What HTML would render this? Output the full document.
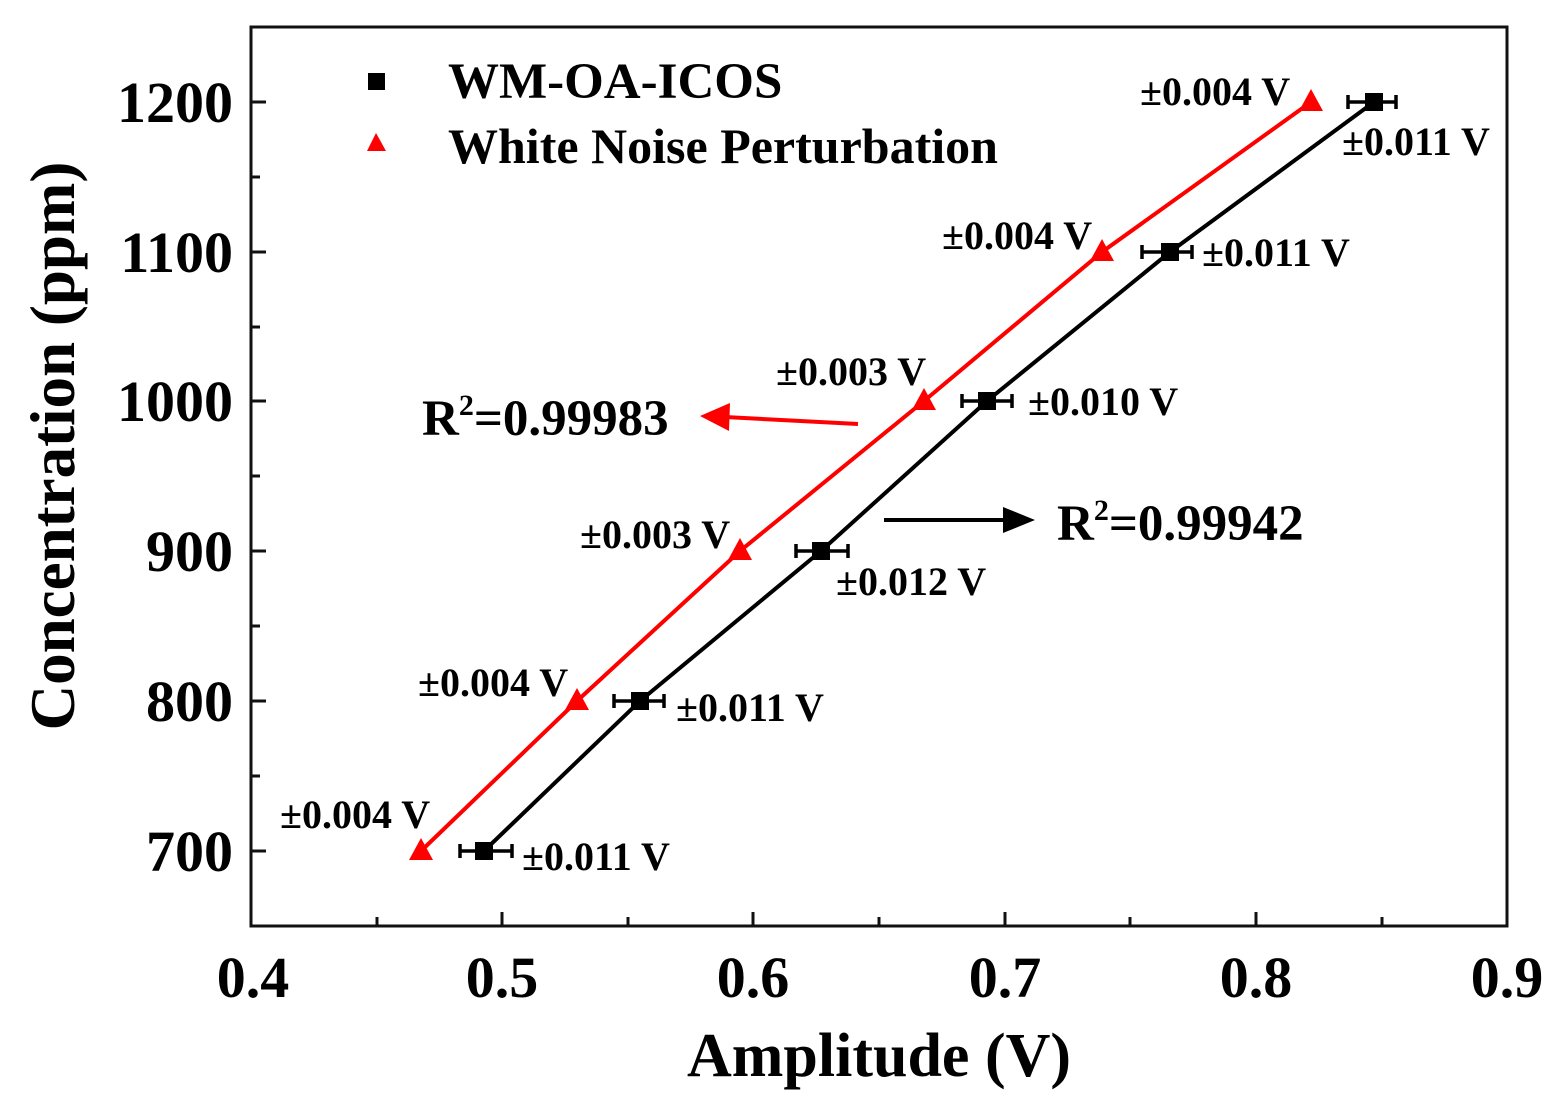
<!DOCTYPE html>
<html><head><style>body{margin:0;background:#fff}svg{display:block}</style></head><body>
<svg width="1556" height="1102" xmlns="http://www.w3.org/2000/svg" font-family="Liberation Serif, serif" font-weight="bold">
<rect x="251" y="27" width="1256" height="899" fill="none" stroke="#111" stroke-width="3"/>
<g stroke="#111" stroke-width="3">
<line x1="502" y1="926" x2="502" y2="912"/><line x1="753" y1="926" x2="753" y2="912"/><line x1="1005" y1="926" x2="1005" y2="912"/><line x1="1256" y1="926" x2="1256" y2="912"/>
<line x1="377" y1="926" x2="377" y2="917"/><line x1="628" y1="926" x2="628" y2="917"/><line x1="879" y1="926" x2="879" y2="917"/><line x1="1130" y1="926" x2="1130" y2="917"/><line x1="1382" y1="926" x2="1382" y2="917"/>
<line x1="251" y1="851" x2="266" y2="851"/><line x1="251" y1="701" x2="266" y2="701"/><line x1="251" y1="551" x2="266" y2="551"/><line x1="251" y1="401" x2="266" y2="401"/><line x1="251" y1="252" x2="266" y2="252"/><line x1="251" y1="102" x2="266" y2="102"/>
<line x1="251" y1="776" x2="260" y2="776"/><line x1="251" y1="626" x2="260" y2="626"/><line x1="251" y1="476" x2="260" y2="476"/><line x1="251" y1="327" x2="260" y2="327"/><line x1="251" y1="177" x2="260" y2="177"/>
</g>
<g font-size="58" text-anchor="middle">
<text x="253" y="997">0.4</text><text x="502" y="997">0.5</text><text x="753" y="997">0.6</text><text x="1005" y="997">0.7</text><text x="1256" y="997">0.8</text><text x="1507" y="997">0.9</text>
</g>
<g font-size="58" text-anchor="end">
<text x="233" y="871">700</text><text x="233" y="721">800</text><text x="233" y="571">900</text><text x="233" y="421">1000</text><text x="233" y="272">1100</text><text x="233" y="122">1200</text>
</g>
<text x="879" y="1076" font-size="62" text-anchor="middle">Amplitude (V)</text>
<text transform="translate(74,446) rotate(-90)" font-size="63" text-anchor="middle">Concentration (ppm)</text>
<rect x="368" y="73" width="17" height="17" fill="#000"/>
<text x="448" y="98" font-size="51">WM-OA-ICOS</text>
<polygon points="376,133 367,151 386,151" fill="red"/>
<text x="448" y="163" font-size="50">White Noise Perturbation</text>
<polyline points="421,851 577,701 740,551 924,401 1102,252 1311,102" fill="none" stroke="red" stroke-width="4"/>
<polyline points="484,851 640,701 821,551 987,401 1170,252 1374,102" fill="none" stroke="#000" stroke-width="4"/>
<g stroke="#000" stroke-width="3.5">
<path d="M460 851H512M460 844V858M512 844V858"/>
<path d="M614 701H664M614 694V708M664 694V708"/>
<path d="M796 551H848M796 544V558M848 544V558"/>
<path d="M962 401H1012M962 394V408M1012 394V408"/>
<path d="M1142 252H1192M1142 245V259M1192 245V259"/>
<path d="M1348 102H1396M1348 95V109M1396 95V109"/>
</g>
<g fill="#000">
<rect x="475" y="842" width="18" height="18"/><rect x="631" y="692" width="18" height="18"/><rect x="812" y="542" width="18" height="18"/><rect x="978" y="392" width="18" height="18"/><rect x="1161" y="243" width="18" height="18"/><rect x="1365" y="93" width="18" height="18"/>
</g>
<g fill="red">
<polygon points="421,838 409,860 433,860"/><polygon points="577,688 565,710 589,710"/><polygon points="740,538 728,560 752,560"/><polygon points="924,388 912,410 936,410"/><polygon points="1102,239 1090,261 1114,261"/><polygon points="1311,89 1299,111 1323,111"/>
</g>
<g font-size="40">
<text x="280" y="828">±0.004 V</text><text x="522" y="870">±0.011 V</text>
<text x="418" y="696">±0.004 V</text><text x="676" y="721">±0.011 V</text>
<text x="580" y="548">±0.003 V</text><text x="836" y="595">±0.012 V</text>
<text x="776" y="385">±0.003 V</text><text x="1028" y="415">±0.010 V</text>
<text x="942" y="249">±0.004 V</text><text x="1202" y="266">±0.011 V</text>
<text x="1140" y="105">±0.004 V</text><text x="1342" y="155">±0.011 V</text>
</g>
<text x="422" y="435" font-size="51">R<tspan font-size="30" dy="-20">2</tspan><tspan dy="20">=0.99983</tspan></text>
<line x1="858" y1="424" x2="725" y2="417" stroke="red" stroke-width="4"/>
<polygon points="700,416 730,403 729,431" fill="red"/>
<line x1="884" y1="520" x2="1005" y2="520" stroke="#000" stroke-width="4"/>
<polygon points="1035,520 1003,507 1003,533" fill="#000"/>
<text x="1057" y="540" font-size="51">R<tspan font-size="30" dy="-20">2</tspan><tspan dy="20">=0.99942</tspan></text>
</svg>
</body></html>
